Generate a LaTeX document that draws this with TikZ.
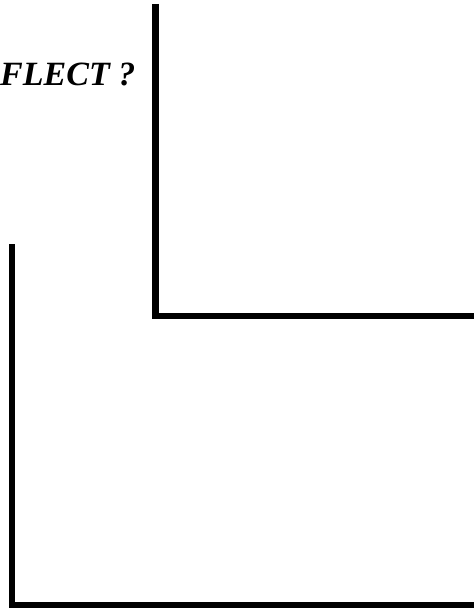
\documentclass[tikz,border=0pt]{standalone}
\usepackage{fontspec}
\setmainfont{Liberation Serif}
\usepackage{tikz}

\begin{document}
\begin{tikzpicture}[x=1pt,y=-1pt,font=\fontsize{34}{40}\selectfont\bfseries\itshape]
\useasboundingbox (0,0) rectangle (473,609);
\node[anchor=base west,inner sep=0pt] (label) at (0,86) {FLECT ?};
\coordinate (upTop) at (155.5,4);
\coordinate (upCorner) at (155.5,316);
\coordinate (upEnd) at (476,316);
\coordinate (loTop) at (12,244);
\coordinate (loCorner) at (12,605);
\coordinate (loEnd) at (476,605);
\draw[line width=6.5pt] (upTop)--(upCorner)--(upEnd);
\draw[line width=6.5pt] (loTop)--(loCorner)--(loEnd);
\end{tikzpicture}
\end{document}
